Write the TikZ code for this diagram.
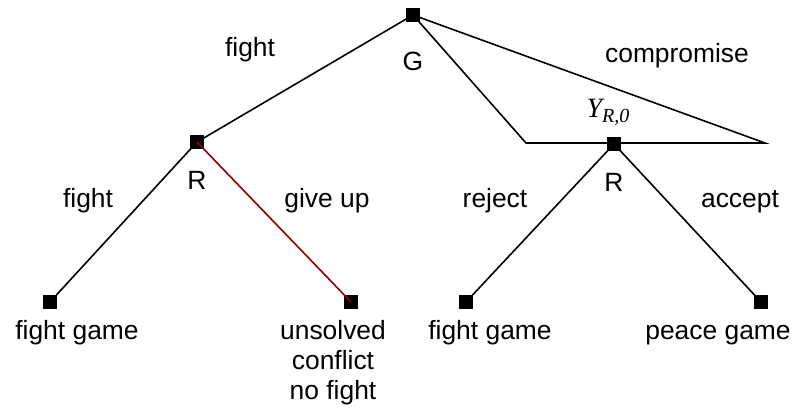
\documentclass[tikz,border=0pt]{standalone}
\usepackage{fontspec}
\setmainfont{Liberation Sans}
\newfontfamily\timesfont{Liberation Serif}
\usepackage{tikz}
\usetikzlibrary{positioning}

\begin{document}
\begin{tikzpicture}[x=0.5pt,y=-0.5pt,
    move/.style={draw=black,line width=0.8pt},
    pick/.style={fill=black,minimum size=6.8pt,inner sep=0pt},
    lbl/.style={anchor=base,inner sep=0pt,font=\fontsize{13.2}{15}\selectfont}]
    \useasboundingbox (0,0) rectangle (797,410);
    % decision nodes
    \node[pick] (g) at (413,15) {};
    \node[pick] (rl) at (197,142) {};
    \node[pick] (rr) at (614,144) {};
    \node[pick] (e1) at (50,302) {};
    \node[pick] (e2) at (351,302) {};
    \node[pick] (e3) at (466,302) {};
    \node[pick] (e4) at (761,302) {};
    \coordinate (cl) at (526,143);
    \coordinate (cr) at (765,143);
    % branches
    \draw[move] (g.center) -- (rl.center);
    \draw[move] (g.center) -- (cl) -- (cr) -- (g.center);
    \draw[move] (rl.center) -- (e1.center);
    \draw[line width=0.8pt,draw=red!55!black] (rl.center) -- (e2.center);
    \draw[move] (rr.center) -- (e3.center);
    \draw[move] (rr.center) -- (e4.center);
    % labels
    \node[lbl] (tfight) at (250,57) {fight};
    \node[lbl] (tg) at (413,71) {G};
    \node[lbl] (tcomp) at (677,63) {compromise};
    \node[anchor=base,inner sep=0pt] (ty) at (608,118)
        {\timesfont\itshape\fontsize{14}{15}\selectfont Y\raisebox{-0.35ex}{\fontsize{10}{11}\selectfont R,0}};
    \node[lbl] (trl) at (197,190) {R};
    \node[lbl] (trr) at (614,192) {R};
    \node[lbl] (tfl) at (88,208) {fight};
    \node[lbl] (tgive) at (327,208) {give up};
    \node[lbl] (trej) at (495,208) {reject};
    \node[lbl] (tacc) at (740,208) {accept};
    \node[lbl] (o1) at (77,340) {fight game};
    \node[lbl,align=center] (o2) at (333,400) {unsolved\\conflict\\no fight};
    \node[lbl] (o3) at (490,340) {fight game};
    \node[lbl] (o4) at (718,340) {peace game};
\end{tikzpicture}
\end{document}
